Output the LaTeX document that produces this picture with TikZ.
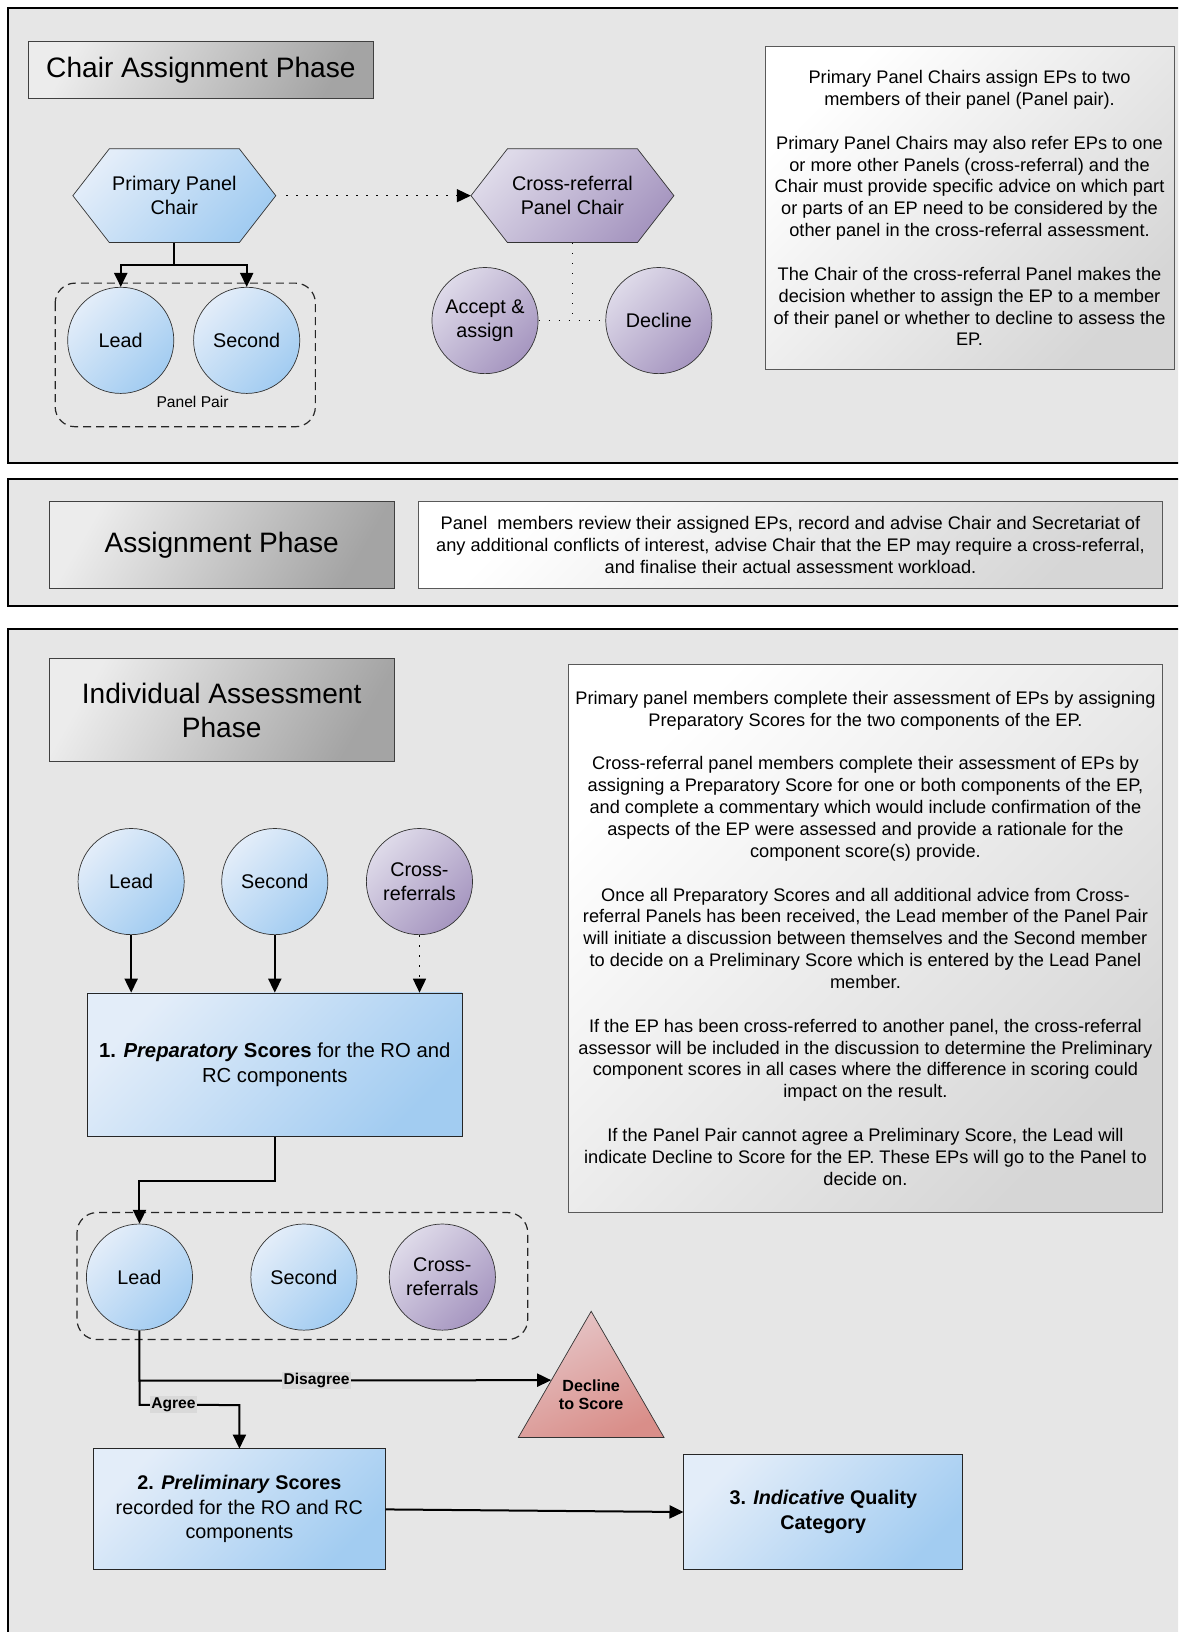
\documentclass[tikz,border=0pt]{standalone}
\usepackage{fontspec}
\setmainfont{Liberation Sans}
\usetikzlibrary{arrows.meta,calc,shapes.geometric}
\definecolor{panelbg}{HTML}{E6E6E6}
\definecolor{blueA}{HTML}{E3EDF9}
\definecolor{blueB}{HTML}{A2CCF1}
\definecolor{purpA}{HTML}{DEDAE9}
\definecolor{purpB}{HTML}{A696C0}
\definecolor{redA}{HTML}{E6C6C8}
\definecolor{redB}{HTML}{D98E89}
\definecolor{greyA}{HTML}{ECECEC}
\definecolor{greyB}{HTML}{A4A4A4}
\definecolor{noteB}{HTML}{D6D6D6}
\definecolor{lblbg}{HTML}{D9D9D9}
\newcommand\fsz[2]{\fontsize{#1}{#2}\selectfont}
\tikzset{
  panel/.style={fill=panelbg, draw=black, line width=2pt},
  titlebox/.style={draw=black!75, line width=0.8pt, top color=greyA, bottom color=greyB, shading angle=60,
    minimum width=332, minimum height=#1, align=center, font=\fsz{27}{32}, inner sep=0pt},
  textbox/.style={draw=black!65, line width=0.8pt, top color=white, bottom color=noteB, shading angle=45,
    align=center, font=\fsz{17.5}{21}, inner sep=0pt},
  blueshade/.style={top color=blueA, bottom color=blueB, shading angle=45},
  purpshade/.style={top color=purpA, bottom color=purpB, shading angle=45},
  circ/.style={circle, draw=black!80, line width=0.7pt, minimum size=102, inner sep=0pt, align=center, font=\fsz{19}{23}},
  hexnode/.style={rectangle, minimum width=195, minimum height=90, inner sep=0pt, align=center, font=\fsz{19}{23}},
  boxnode/.style={draw=black!85, line width=0.8pt, blueshade, align=center, font=\fsz{19}{23.5}, inner sep=0pt},
  tri/.style={regular polygon, regular polygon sides=3, minimum size=161.7, inner sep=0pt, draw=black!80,
    line width=0.7pt, top color=redA, bottom color=redB, shading angle=25},
  tritext/.style={font=\bfseries\fsz{15.5}{18}, align=center, inner sep=0pt},
  arr/.style={line width=2pt, -{Triangle[length=14pt,width=13pt]}},
  dotl/.style={line width=1.5pt, dash pattern=on 1.5pt off 8.5pt},
  dotarr/.style={dotl, -{Triangle[length=14pt,width=13pt]}},
  dashbox/.style={draw=black!85, line width=1.2pt, dash pattern=on 8pt off 5pt, rounded corners=20pt},
  lbl/.style={fill=lblbg, font=\bfseries\fsz{15}{18}, inner sep=1.5pt},
  pics/hexa/.style={code={\path[draw=black!80, line width=0.7pt, #1]
     (-97.5,0) -- (-62.5,-45) -- (62.5,-45) -- (97.5,0) -- (62.5,45) -- (-62.5,45) -- cycle;}}
}
\begin{document}
\begin{tikzpicture}[x=1pt,y=-1pt,scale=1.0406,transform shape]
\useasboundingbox (0,0) rectangle (1132,1568);
\clip (0,0) rectangle (1132,1568);
\fill[white] (0,0) rectangle (1132,1568);

% ---------- panels
\draw[panel] (8,8) rectangle (1150,445);
\draw[panel] (8,460) rectangle (1150,582);
\draw[panel] (8,604) rectangle (1150,1600);

% ---------- Chair Assignment Phase
\node[titlebox=55] (t1) at (193,67.5) {Chair Assignment Phase};

\pic at (167.5,188) {hexa=blueshade};
\node[hexnode] (pchair) at (167.5,188) {Primary Panel\\Chair};
\pic at (550,188) {hexa=purpshade};
\node[hexnode] (cchair) at (550,188) {Cross-referral\\Panel Chair};
\draw[dotarr, shorten <=10pt] (pchair.east) -- (cchair.west);

\draw[dashbox] (53,272) rectangle (303,410);
\node[circ,blueshade] (lead1) at (116,327) {Lead};
\node[circ,blueshade] (second1) at (237,327) {Second};
\node[font=\fsz{15}{18}] (pp) at (185,386) {Panel Pair};
\draw[arr] (pchair.south) -- ++(0,21) -| (lead1.north);
\draw[arr] (pchair.south) -- ++(0,21) -| (second1.north);

\node[circ,purpshade] (accept) at (466,308) {Accept \&\\assign};
\node[circ,purpshade] (decline1) at (633,308) {Decline};
\draw[dotl] (cchair.south) -- (cchair.south |- accept.east);
\draw[dotl] (accept.east) -- (decline1.west);

\node[textbox, minimum width=393, minimum height=310] (note1) at (931.5,200) {%
Primary Panel Chairs assign EPs to two\\
members of their panel (Panel pair).\\[21pt]
Primary Panel Chairs may also refer EPs to one\\
or more other Panels (cross-referral) and the\\
Chair must provide specific advice on which part\\
or parts of an EP need to be considered by the\\
other panel in the cross-referral assessment.\\[21pt]
The Chair of the cross-referral Panel makes the\\
decision whether to assign the EP to a member\\
of their panel or whether to decline to assess the\\
EP.};

% ---------- Assignment Phase
\node[titlebox=83] (t2) at (213,523.5) {Assignment Phase};
\node[textbox, minimum width=715, minimum height=83] (note2) at (759.5,523.5) {%
Panel\ \ members review their assigned EPs, record and advise Chair and Secretariat of\\
any additional conflicts of interest, advise Chair that the EP may require a cross-referral,\\
and finalise their actual assessment workload.};

% ---------- Individual Assessment Phase
\node[titlebox=99] (t3) at (213,682.5) {Individual Assessment\\Phase};
\node[textbox, minimum width=571, minimum height=527] (note3) at (831.5,901.5) {%
Primary panel members complete their assessment of EPs by assigning\\
Preparatory Scores for the two components of the EP.\\[21pt]
Cross-referral panel members complete their assessment of EPs by\\
assigning a Preparatory Score for one or both components of the EP,\\
and complete a commentary which would include confirmation of the\\
aspects of the EP were assessed and provide a rationale for the\\
component score(s) provide.\\[21pt]
Once all Preparatory Scores and all additional advice from Cross-\\
referral Panels has been received, the Lead member of the Panel Pair\\
will initiate a discussion between themselves and the Second member\\
to decide on a Preliminary Score which is entered by the Lead Panel\\
member.\\[21pt]
If the EP has been cross-referred to another panel, the cross-referral\\
assessor will be included in the discussion to determine the Preliminary\\
component scores in all cases where the difference in scoring could\\
impact on the result.\\[21pt]
If the Panel Pair cannot agree a Preliminary Score, the Lead will\\
indicate Decline to Score for the EP. These EPs will go to the Panel to\\
decide on.};

\node[circ,blueshade] (lead3) at (126,847) {Lead};
\node[circ,blueshade] (second3) at (264,847) {Second};
\node[circ,purpshade] (cross3) at (403,847) {Cross-\\referrals};
\node[boxnode, minimum width=360, minimum height=138, font=\fsz{19.5}{23.5}] (box1) at (264,1023)
  {\textbf{1. \textit{Preparatory} Scores} for the RO and\\RC components};
\draw[arr] (lead3.south) -- (lead3.south |- box1.north);
\draw[arr] (second3.south) -- (second3.south |- box1.north);
\draw[dotarr] (cross3.south) -- (cross3.south |- box1.north);

\draw[dashbox] (74,1165) rectangle (507,1287);
\node[circ,blueshade] (lead4) at (134,1227) {Lead};
\node[circ,blueshade] (second4) at (292,1227) {Second};
\node[circ,purpshade] (cross4) at (425,1227) {Cross-\\referrals};
\draw[arr] (box1.south) -- ++(0,42) -| (lead4.north);

\node[tri] (dts) at (568,1340.7) {};
\node[tritext] (dtstxt) at (568,1340) {Decline\\to Score};
\node[boxnode, minimum width=280, minimum height=116] (box2) at (230,1450)
  {\textbf{2. \textit{Preliminary} Scores}\\recorded for the RO and RC\\components};
\node[boxnode, minimum width=268, minimum height=111] (box3) at (791,1452.5)
  {\textbf{3. \textit{Indicative} Quality}\\\textbf{Category}};

\draw[arr] (lead4.south) -- ++(0,48) coordinate (b1)
   -- ($(dts.corner 1)!0.545!(dts.corner 2)$) node[lbl,pos=0.43] (dis) {Disagree};
\draw[arr] (b1) -- ++(0,23) coordinate (b2) -- (b2 -| box2.north) node[lbl,pos=0.34] (agr) {Agree}
   -- (box2.north);
\draw[arr] (box2.east) -- (box3.west);
\end{tikzpicture}
\end{document}
